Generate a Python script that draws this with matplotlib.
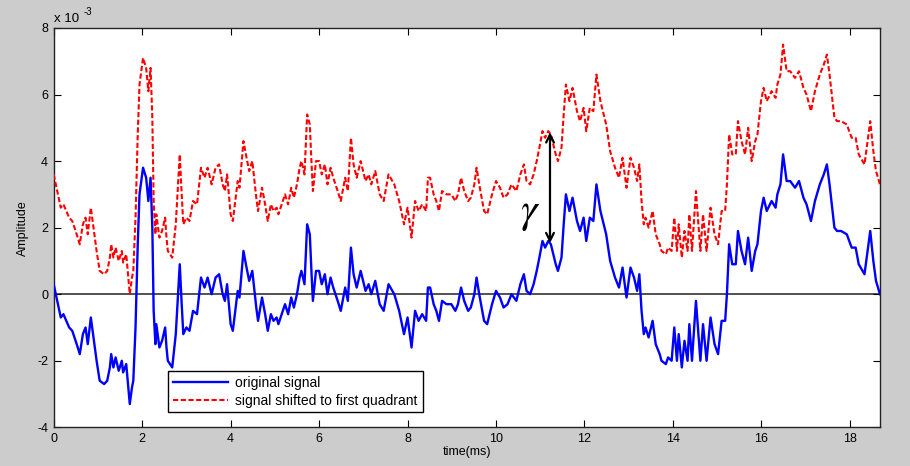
import numpy as np
import matplotlib.pyplot as plt

plt.rcParams['font.family'] = ['Liberation Sans', 'DejaVu Sans']
plt.rcParams['mathtext.fontset'] = 'stix'
plt.rcParams['axes.unicode_minus'] = False

# time (ms) and original signal amplitude (x 1e-3)
time_ms = [0.00, 0.16, 0.22, 0.35, 0.42, 0.52, 0.59, 0.66, 0.72, 0.77, 0.84, 0.92, 0.97,
           1.04, 1.14, 1.21, 1.27, 1.30, 1.35, 1.40, 1.47, 1.54, 1.57, 1.64, 1.72, 1.77,
           1.80, 1.85, 1.90, 1.94, 2.02, 2.09, 2.14, 2.19, 2.23, 2.26, 2.30, 2.32, 2.39,
           2.45, 2.52, 2.55, 2.58, 2.68, 2.76, 2.85, 2.89, 2.93, 3.00, 3.07, 3.15, 3.24,
           3.33, 3.41, 3.48, 3.57, 3.66, 3.74, 3.82, 3.87, 3.92, 4.00, 4.05, 4.16, 4.20,
           4.29, 4.36, 4.42, 4.49, 4.58, 4.62, 4.71, 4.78, 4.84, 4.91, 4.97, 5.04, 5.08,
           5.18, 5.23, 5.30, 5.37, 5.43, 5.50, 5.56, 5.60, 5.67, 5.73, 5.79, 5.83, 5.86,
           5.93, 6.00, 6.06, 6.13, 6.19, 6.26, 6.32, 6.42, 6.49, 6.59, 6.65, 6.72, 6.78,
           6.85, 6.94, 7.05, 7.12, 7.18, 7.27, 7.37, 7.46, 7.57, 7.70, 7.81, 7.92, 8.00,
           8.09, 8.17, 8.25, 8.33, 8.42, 8.46, 8.51, 8.59, 8.65, 8.71, 8.78, 8.88, 8.99,
           9.08, 9.14, 9.21, 9.28, 9.37, 9.43, 9.51, 9.56, 9.62, 9.73, 9.80, 9.91, 10.00,
           10.09, 10.17, 10.26, 10.35, 10.46, 10.55, 10.63, 10.69, 10.77, 10.85, 10.92,
           10.98, 11.05, 11.11, 11.18, 11.24, 11.35, 11.40, 11.48, 11.53, 11.58, 11.66,
           11.73, 11.83, 11.90, 11.98, 12.04, 12.12, 12.20, 12.27, 12.36, 12.49, 12.58,
           12.69, 12.78, 12.86, 12.95, 13.04, 13.12, 13.19, 13.24, 13.29, 13.34, 13.38,
           13.45, 13.54, 13.61, 13.70, 13.74, 13.84, 13.89, 13.97, 14.03, 14.09, 14.13,
           14.20, 14.26, 14.33, 14.37, 14.43, 14.52, 14.62, 14.68, 14.76, 14.85, 14.94,
           15.02, 15.10, 15.18, 15.22, 15.27, 15.34, 15.42, 15.47, 15.55, 15.63, 15.70,
           15.78, 15.86, 15.91, 15.99, 16.05, 16.12, 16.23, 16.32, 16.36, 16.43, 16.49,
           16.57, 16.65, 16.76, 16.85, 16.95, 17.02, 17.12, 17.21, 17.32, 17.41, 17.48,
           17.54, 17.65, 17.71, 17.80, 17.93, 18.04, 18.13, 18.20, 18.33, 18.46, 18.53,
           18.59, 18.68]
original = [0.3, -0.7, -0.6, -1.0, -1.1, -1.5, -1.8, -1.2, -1.0, -1.5, -0.7, -1.5, -2.0,
            -2.6, -2.7, -2.6, -2.2, -1.8, -2.2, -1.9, -2.3, -2.0, -2.35, -2.1, -3.3, -2.8,
            -2.6, -1.0, 1.5, 3.0, 3.8, 3.5, 2.8, 3.5, 2.0, -0.5, -1.5, -0.9, -1.6,
            -1.4, -1.0, -1.6, -2.0, -2.2, -1.2, 0.9, -0.2, -1.2, -1.0, -1.1, -0.5, -0.6,
            0.5, 0.2, 0.5, 0.0, 0.5, 0.6, 0.0, -0.2, 0.3, -0.9, -1.1, 0.1, -0.1,
            1.3, 0.8, 0.4, 0.7, -0.4, -0.8, -0.1, -0.6, -1.1, -0.6, -0.8, -0.7, -0.9,
            -0.5, -0.3, -0.6, -0.1, -0.4, 0.0, 0.5, 0.7, 0.3, 2.1, 1.8, 0.6, -0.2,
            0.7, 0.7, 0.3, 0.6, 0.0, 0.5, 0.2, -0.2, -0.5, 0.2, -0.2, 1.4, 0.6,
            0.2, 0.7, 0.1, 0.3, 0.0, 0.4, -0.3, -0.5, 0.3, 0.0, -0.5, -1.2, -0.7,
            -1.6, -0.5, -0.8, -0.6, -0.8, 0.2, 0.2, -0.3, -0.5, -0.8, -0.2, -0.3, -0.3,
            -0.5, -0.3, 0.2, -0.2, -0.5, -0.4, 0.0, 0.5, 0.0, -0.8, -0.9, -0.3, 0.1,
            -0.1, -0.4, -0.3, 0.0, -0.2, 0.3, 0.6, 0.1, 0.0, 0.3, 0.7,
            1.1, 1.6, 1.4, 1.6, 1.5, 0.9, 0.7, 1.1, 2.1, 3.0, 2.5,
            2.9, 2.2, 1.9, 2.3, 1.6, 2.3, 2.2, 3.3, 2.5, 1.8, 1.0,
            0.5, 0.2, 0.8, -0.1, 0.8, 0.5, 0.1, 0.6, -0.5, -1.2, -1.0,
            -1.3, -0.8, -1.5, -1.8, -2.0, -2.1, -1.9, -2.0, -1.0, -2.0, -1.2,
            -2.2, -1.4, -2.0, -0.9, -2.0, -0.2, -2.0, -0.9, -2.0, -0.7, -1.5,
            -1.8, -0.8, -0.8, 0.0, 1.5, 0.9, 0.9, 1.9, 1.3, 0.9, 1.7,
            0.7, 1.3, 1.5, 2.5, 2.9, 2.5, 2.8, 2.6, 3.0, 3.3, 4.2,
            3.4, 3.4, 3.2, 3.4, 2.9, 2.7, 2.2, 2.8, 3.3, 3.6, 3.9,
            3.3, 2.0, 1.9, 1.9, 1.8, 1.4, 1.4, 0.9, 0.6, 1.9, 1.0,
            0.4, 0.0]

t = np.array(time_ms)
sig = np.array(original)
shifted = sig - sig.min()   # signal shifted to first quadrant

fig = plt.figure(figsize=(9.1, 4.66), dpi=100, facecolor='#cccccc')
ax = fig.add_axes([0.059, 0.083, 0.908, 0.857])
ax.set_facecolor('white')

ax.axhline(0, color='#333333', linewidth=1.2, zorder=1)
ax.plot(t, sig, color='#0000ff', linewidth=1.7, label='original signal', zorder=3)
ax.plot(t, shifted, color='#ff0000', linestyle='--', dashes=(2.5, 1.2), linewidth=1.5,
        label='signal shifted to first quadrant', zorder=3)

# gamma arrow between the two curves
ax.annotate('', xy=(11.22, 4.95), xytext=(11.22, 1.45),
            arrowprops=dict(arrowstyle='<->', color='black', lw=1.6,
                            mutation_scale=14), zorder=4)
ax.text(10.78, 2.45, r'$\gamma$', fontsize=30, ha='center', va='center')

ax.set_xlim(0, 18.68)
ax.set_ylim(-4, 8)
ax.set_xticks(np.arange(0, 19, 2))
ax.set_yticks(np.arange(-4, 9, 2))
ax.tick_params(direction='in', top=True, right=True, length=5, labelsize=9,
               width=0.8, pad=4)
for s in ax.spines.values():
    s.set_linewidth(1.0)
    s.set_color('#222222')

ax.text(0.0, 1.008, 'x 10', transform=ax.transAxes, fontsize=9.5,
        ha='left', va='bottom')
ax.text(0.036, 1.027, '-3', transform=ax.transAxes, fontsize=7,
        ha='left', va='bottom')
ax.set_xlabel('time(ms)', fontsize=9, labelpad=1)
ax.set_ylabel('Amplitude', fontsize=9, labelpad=6)

leg = ax.legend(loc='lower left', bbox_to_anchor=(0.13, 0.02), fontsize=10,
                fancybox=False, framealpha=1, edgecolor='black', handlelength=4.0,
                borderpad=0.35, labelspacing=0.25, handletextpad=0.5)
leg.get_frame().set_linewidth(1.0)

fig.savefig('out.png', dpi=100, facecolor=fig.get_facecolor())
